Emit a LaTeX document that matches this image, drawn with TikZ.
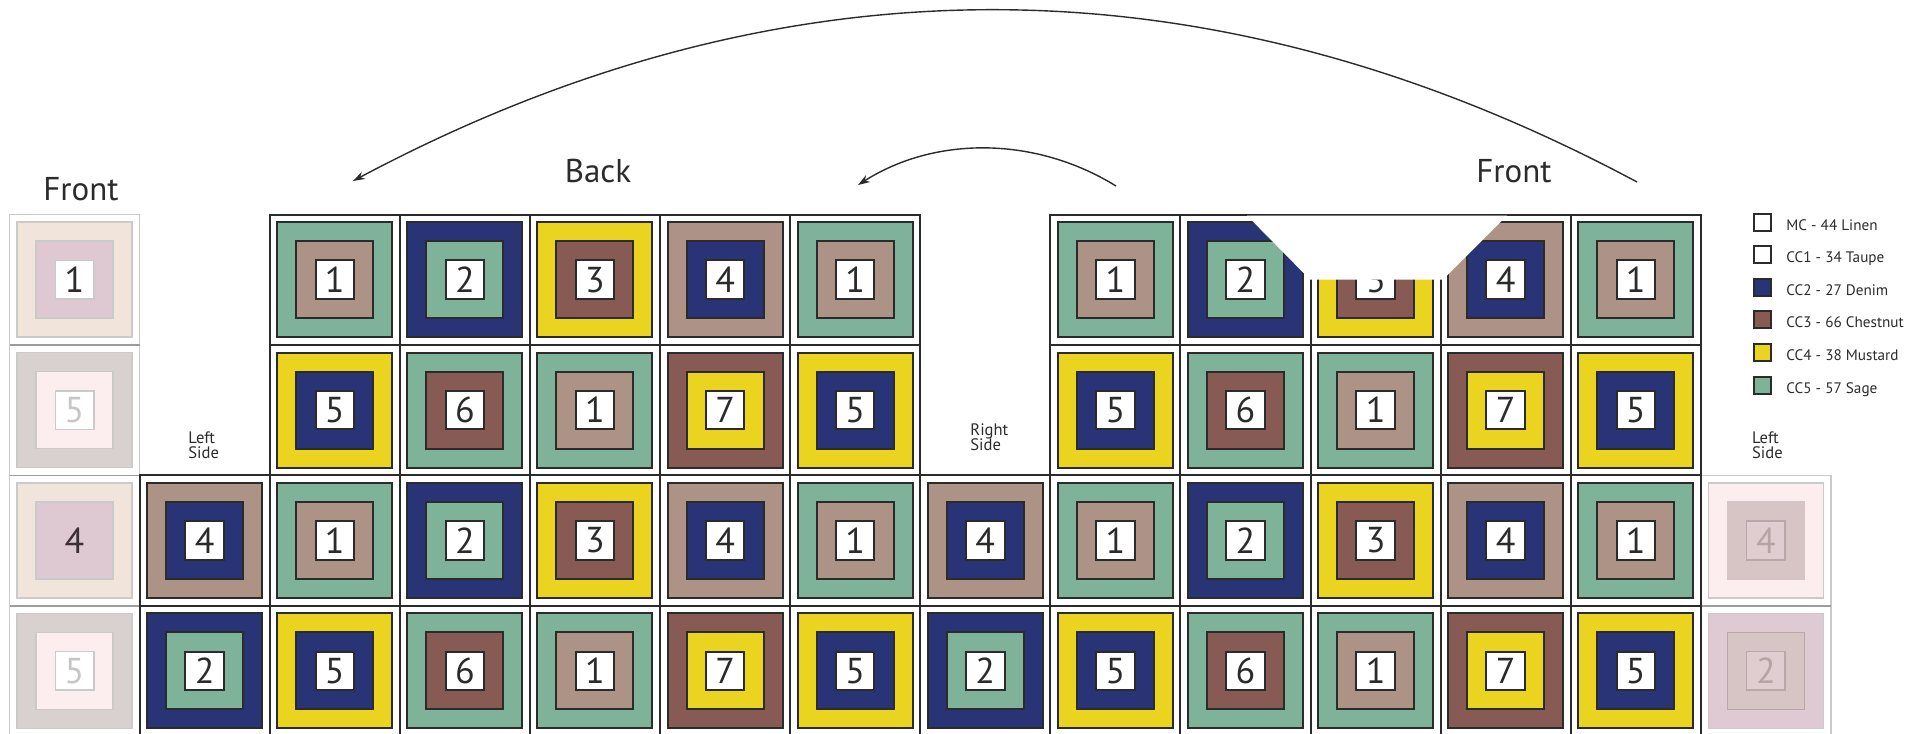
\documentclass[tikz,border=0pt]{standalone}
\usepackage{fontspec}
\setmainfont{PT Sans}
\usetikzlibrary{arrows.meta}
\definecolor{sage}{HTML}{7EB399}
\definecolor{taupe}{HTML}{AC9385}
\definecolor{denim}{HTML}{283475}
\definecolor{chestnut}{HTML}{875A53}
\definecolor{mustard}{HTML}{EBD41F}
\definecolor{ink}{HTML}{2B2B2B}
\definecolor{paleline}{HTML}{CACACA}
\definecolor{midline}{HTML}{9C9C9C}
\definecolor{fpeach}{HTML}{F1E4DA}
\definecolor{fmauve}{HTML}{DEC8D2}
\definecolor{fgray}{HTML}{D8D1D0}
\definecolor{fpink}{HTML}{FCEDEE}
\definecolor{frose}{HTML}{D7C4C5}
\definecolor{frosein}{HTML}{DFCDD0}
\definecolor{frosebd}{HTML}{BBA7AA}
\definecolor{fplum}{HTML}{DFC9D2}
\definecolor{fdigit}{HTML}{C6C6C6}
\definecolor{fdigitr}{HTML}{B5A3A6}
\definecolor{fdark}{HTML}{3A3035}
\newcommand\qdigitfont{\fontsize{18}{18}\selectfont}
\tikzset{
  sq/.style={rectangle, inner sep=0pt, outer sep=0pt, line width=1pt},
  gridline/.style={draw=ink, line width=1pt, line cap=rect},
  titletext/.style={font=\fontsize{16.5}{18}\selectfont, text=ink, inner sep=0pt},
  sidetext/.style={font=\fontsize{8.3}{9}\selectfont, text=ink, inner sep=0pt, anchor=base west},
  legtext/.style={font=\fontsize{7.6}{9}\selectfont, text=ink, inner sep=0pt, anchor=base west},
  arrowline/.style={draw=ink, line width=0.7pt, -{Stealth[length=6pt,width=4pt]}},
  pics/tile/.style n args={3}{code={
    \node[sq, draw=ink, fill=#1, minimum size=57.5pt] (-o) {};
    \node[sq, draw=ink, fill=#2, minimum size=38.5pt] (-m) {};
    \node[sq, draw=ink, fill=white, minimum size=19.25pt, font=\qdigitfont, text=ink] (-i) {#3};
  }},
  pics/ftile/.style n args={8}{code={
    \node[sq, line width=0.8pt, draw=#2, fill=#1, minimum size=57.5pt] (-o) {};
    \node[sq, line width=0.8pt, draw=#4, fill=#3, minimum size=38.5pt] (-m) {};
    \node[sq, line width=0.8pt, draw=#6, fill=#5, minimum size=19.25pt, font=\qdigitfont, text=#7] (-i) {#8};
  }},
}
\begin{document}
\begin{tikzpicture}[x=0.5pt,y=-0.5pt]
\useasboundingbox (0,0) rectangle (1931,733);
\clip (0,0) rectangle (1931,733);

% faded columns
\pic (fl0) at (74.55,279.7) {ftile={fpeach}{paleline}{fmauve}{paleline}{white}{paleline}{ink}{1}};
\pic (fl1) at (74.55,410.1) {ftile={fgray}{paleline}{fpink}{paleline}{white}{paleline}{fdigit}{5}};
\pic (fl2) at (74.55,540.5) {ftile={fpeach}{paleline}{fmauve}{paleline}{none}{none}{fdark}{4}};
\pic (fl3) at (74.55,670.9) {ftile={fgray}{paleline}{fpink}{paleline}{white}{paleline}{fdigit}{5}};
\pic (fr2) at (1765.85,540.5) {ftile={fpink}{paleline}{frose}{frose}{frosein}{frosebd}{fdigitr}{4}};
\pic (fr3) at (1765.85,670.9) {ftile={fplum}{paleline}{frose}{frosebd}{frosein}{frosebd}{fdigitr}{2}};
\draw[paleline, line width=0.8pt] (9.5,214.5) rectangle (139.6,736.1);
\draw[paleline, line width=0.8pt] (1700.8,475.3) rectangle (1830.9,736.1);
\foreach \y in {344.9,475.3,605.7} \draw[midline, line width=0.8pt] (9.5,\y) -- (139.6,\y);
\draw[midline, line width=0.8pt] (1700.8,605.7) -- (1830.9,605.7);

% main tiles
\foreach \j in {0,2}{
  \foreach \k/\o/\m/\n in {0/sage/taupe/1,1/denim/sage/2,2/mustard/chestnut/3,3/taupe/denim/4,4/sage/taupe/1}{
    \pic (bk\j\k) at ({74.55+130.1*(2+\k)},{279.7+130.4*\j}) {tile={\o}{\m}{\n}};
    \pic (ft\j\k) at ({74.55+130.1*(8+\k)},{279.7+130.4*\j}) {tile={\o}{\m}{\n}};
  }
}
\foreach \j in {1,3}{
  \foreach \k/\o/\m/\n in {0/mustard/denim/5,1/sage/chestnut/6,2/sage/taupe/1,3/chestnut/mustard/7,4/mustard/denim/5}{
    \pic (bk\j\k) at ({74.55+130.1*(2+\k)},{279.7+130.4*\j}) {tile={\o}{\m}{\n}};
    \pic (ft\j\k) at ({74.55+130.1*(8+\k)},{279.7+130.4*\j}) {tile={\o}{\m}{\n}};
  }
}
\pic (ls2) at (204.65,540.5) {tile={taupe}{denim}{4}};
\pic (rs2) at (985.25,540.5) {tile={taupe}{denim}{4}};
\pic (ls3) at (204.65,670.9) {tile={denim}{sage}{2}};
\pic (rs3) at (985.25,670.9) {tile={denim}{sage}{2}};

% grid
\draw[gridline] (269.7,214.5) -- (920.2,214.5) (1050.3,214.5) -- (1700.8,214.5);
\draw[gridline] (269.7,344.9) -- (920.2,344.9) (1050.3,344.9) -- (1700.8,344.9);
\foreach \y in {475.3,605.7,736.1} \draw[gridline] (139.6,\y) -- (1700.8,\y);
\foreach \i in {2,...,13} \draw[gridline] ({9.5+130.1*\i},214.5) -- ({9.5+130.1*\i},736.1);
\draw[gridline] (139.6,475.3) -- (139.6,736.1);

% white cut-out shape
\fill[white] (1247,215.6) -- (1507,215.6) -- (1443,279.5) -- (1310,279.5) -- cycle;

% titles
\node[titletext, anchor=base] (frontL) at (81,200) {Front};
\node[titletext, anchor=base] (back) at (598,182) {Back};
\node[titletext, anchor=base] (frontR) at (1514,182) {Front};

% side labels
\node[sidetext] (lsa) at (188,443.3) {Left};
\node[sidetext] (lsb) at (188,458) {Side};
\node[sidetext] (rsa) at (970,435) {Right};
\node[sidetext] (rsb) at (970,450) {Side};
\node[sidetext] (lra) at (1751.7,443.3) {Left};
\node[sidetext] (lrb) at (1751.7,458.5) {Side};

% legend
\foreach \k/\c/\t in {0/white/MC - 44 Linen,1/white/CC1 - 34 Taupe,2/denim/CC2 - 27 Denim,3/chestnut/CC3 - 66 Chestnut,4/mustard/CC4 - 38 Mustard,5/sage/CC5 - 57 Sage}{
  \node[sq, draw=ink, fill=\c, minimum size=8.5pt] (lg\k) at (1762,{222+32.6*\k}) {};
  \node[legtext] (lt\k) at (1786,{230+32.6*\k}) {\t};
}

% arrows
\coordinate (a1s) at (1637,182);
\coordinate (a1e) at (353,181);
\draw[arrowline] (a1s) .. controls (1209,-47) and (781,-47) .. (a1e);
\coordinate (a2s) at (1116,186);
\coordinate (a2e) at (858,185);
\draw[arrowline] (a2s) .. controls (1035,136) and (935,136) .. (a2e);
\end{tikzpicture}
\end{document}
